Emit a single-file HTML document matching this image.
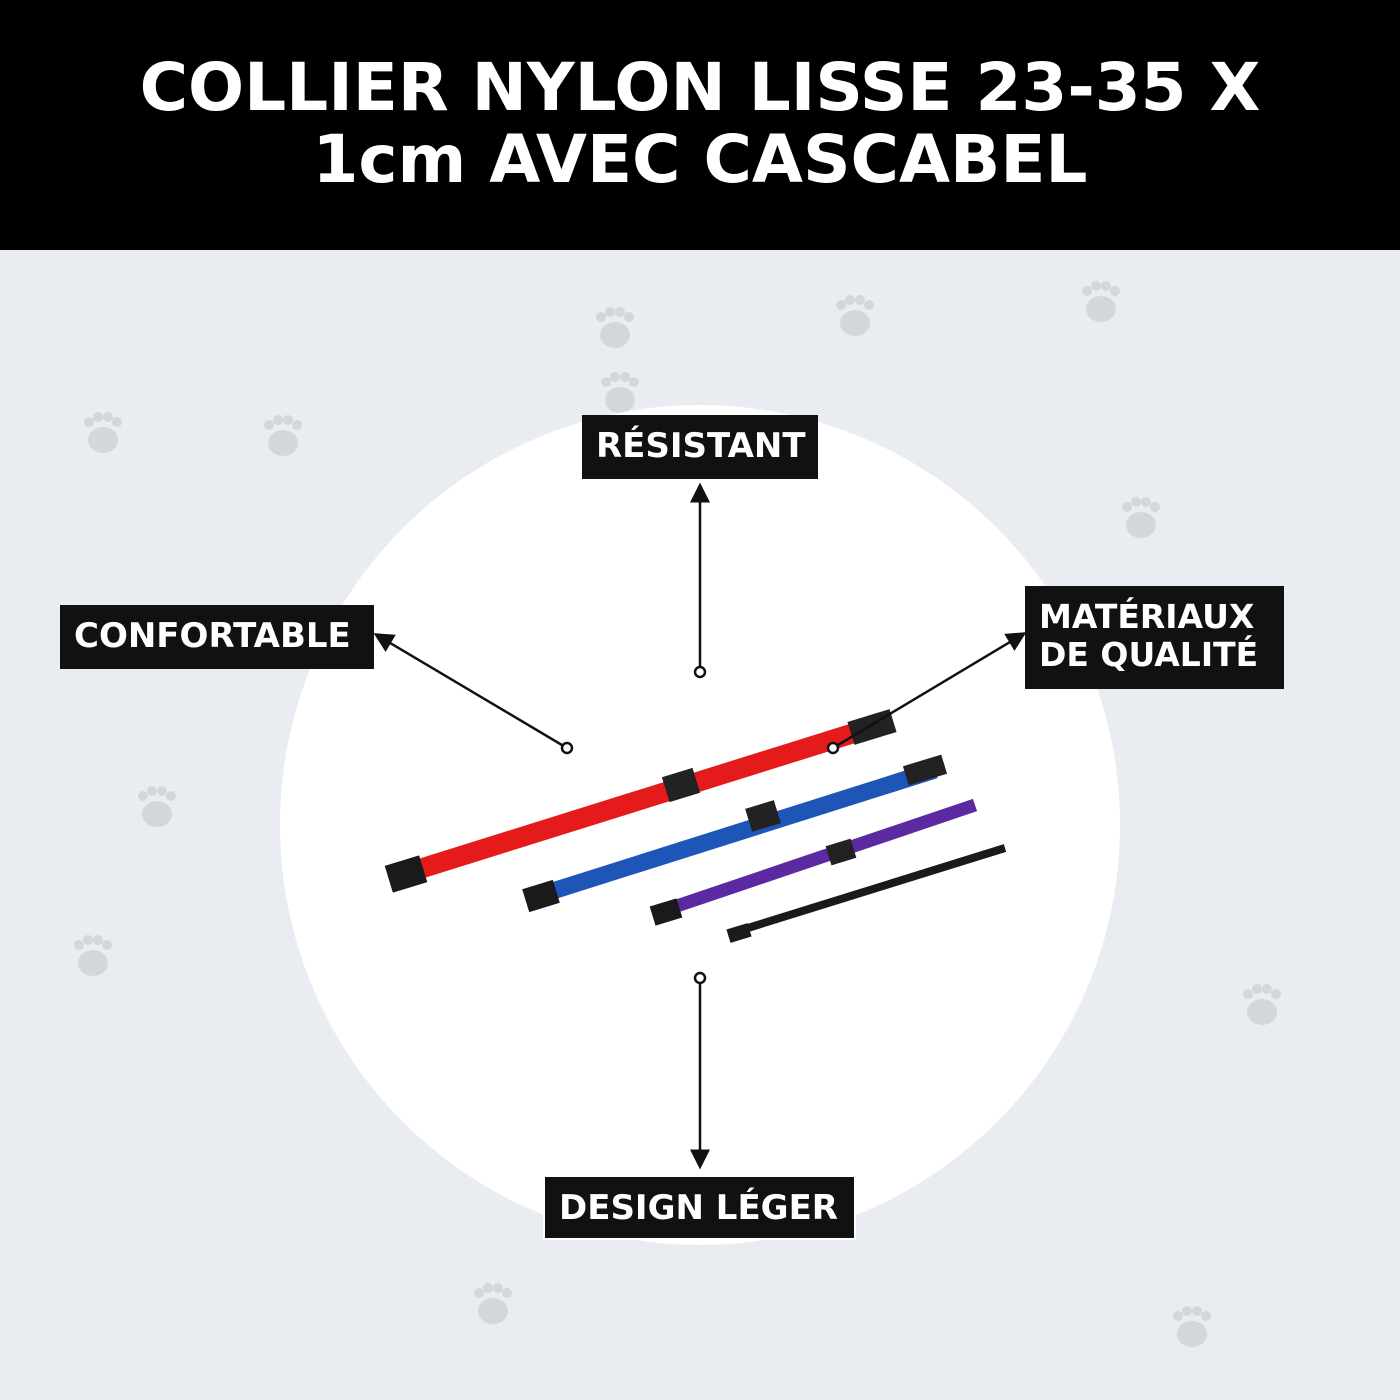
<!DOCTYPE html>
<html><head><meta charset="utf-8"><style>
html,body{margin:0;padding:0}
body{width:1400px;height:1400px;position:relative;background:#e9edf2;overflow:hidden;font-family:"DejaVu Sans","Liberation Sans",sans-serif}
.hdr{position:absolute;left:0;top:0;width:1400px;height:250px;background:#000;color:#fff;text-align:center;font-weight:bold;font-size:66px;line-height:72px;padding-top:52px;box-sizing:border-box;letter-spacing:0px}
.lab{position:absolute;background:#111;color:#fff;font-weight:bold;font-size:34px;line-height:38px;box-sizing:border-box;padding:12px 14px;white-space:nowrap}
</style></head><body>
<div class="hdr">COLLIER NYLON LISSE 23-35 X<br>1cm AVEC CASCABEL</div>
<svg width="1400" height="1400" style="position:absolute;left:0;top:0">
<defs>
<g id="paw" fill="#d3d7dc"><ellipse cx="0" cy="8" rx="15" ry="13"/><circle cx="-14" cy="-10" r="5"/><circle cx="-5" cy="-15" r="5"/><circle cx="5" cy="-15" r="5"/><circle cx="14" cy="-10" r="5"/></g>
<marker id="ar" markerWidth="10" markerHeight="10" refX="5" refY="5" orient="auto"><path d="M0,1 L8,5 L0,9 z" fill="#111"/></marker>
</defs>
<use href="#paw" x="615" y="327"/><use href="#paw" x="855" y="315"/><use href="#paw" x="1101" y="301"/>
<use href="#paw" x="620" y="392"/><use href="#paw" x="103" y="432"/><use href="#paw" x="283" y="435"/>
<use href="#paw" x="1141" y="517"/><use href="#paw" x="157" y="806"/><use href="#paw" x="93" y="955"/>
<use href="#paw" x="1262" y="1004"/><use href="#paw" x="493" y="1303"/><use href="#paw" x="1192" y="1326"/>
<circle cx="700" cy="825" r="420" fill="#fff"/>
<g stroke-linecap="butt">
<line x1="410" y1="872" x2="870" y2="728" stroke="#e51b1b" stroke-width="20"/>
<rect x="388" y="860" width="36" height="28" fill="#1a1a1a" transform="rotate(-17 406 874)"/>
<rect x="665" y="772" width="32" height="26" fill="#222" transform="rotate(-17 681 785)"/>
<rect x="850" y="715" width="44" height="24" fill="#222" transform="rotate(-17 872 727)"/>
<line x1="540" y1="895" x2="935" y2="770" stroke="#1e56b8" stroke-width="17"/>
<rect x="525" y="884" width="32" height="24" fill="#1a1a1a" transform="rotate(-17 541 896)"/>
<rect x="748" y="804" width="30" height="24" fill="#222" transform="rotate(-17 763 816)"/>
<rect x="905" y="760" width="40" height="20" fill="#222" transform="rotate(-17 925 770)"/>
<line x1="665" y1="910" x2="975" y2="805" stroke="#5b2aa0" stroke-width="13"/>
<rect x="652" y="902" width="28" height="20" fill="#1a1a1a" transform="rotate(-17 666 912)"/>
<rect x="828" y="842" width="26" height="20" fill="#222" transform="rotate(-17 841 852)"/>
<line x1="735" y1="932" x2="1005" y2="848" stroke="#1a1a1a" stroke-width="8"/>
<rect x="728" y="926" width="22" height="14" fill="#1a1a1a" transform="rotate(-17 739 933)"/>
</g>
<g stroke="#111" stroke-width="2.5" fill="none">
<line x1="700" y1="672" x2="700" y2="490" marker-end="url(#ar)"/>
<circle cx="700" cy="672" r="5" fill="#fff"/>
<line x1="567" y1="748" x2="380" y2="637" marker-end="url(#ar)"/>
<circle cx="567" cy="748" r="5" fill="#fff"/>
<line x1="833" y1="748" x2="1020" y2="636" marker-end="url(#ar)"/>
<circle cx="833" cy="748" r="5" fill="#fff"/>
<line x1="700" y1="978" x2="700" y2="1162" marker-end="url(#ar)"/>
<circle cx="700" cy="978" r="5" fill="#fff"/>
</g>
</svg>
<div class="lab" style="left:582px;top:415px;width:236px;height:64px">RÉSISTANT</div>
<div class="lab" style="left:60px;top:605px;width:314px;height:64px">CONFORTABLE</div>
<div class="lab" style="left:1025px;top:586px;width:259px;height:103px;font-size:33px;line-height:38px;padding-top:12px">MATÉRIAUX<br>DE QUALITÉ</div>
<div class="lab" style="left:543px;top:1175px;width:313px;height:65px;border:2px solid #fff">DESIGN LÉGER</div>
</body></html>
